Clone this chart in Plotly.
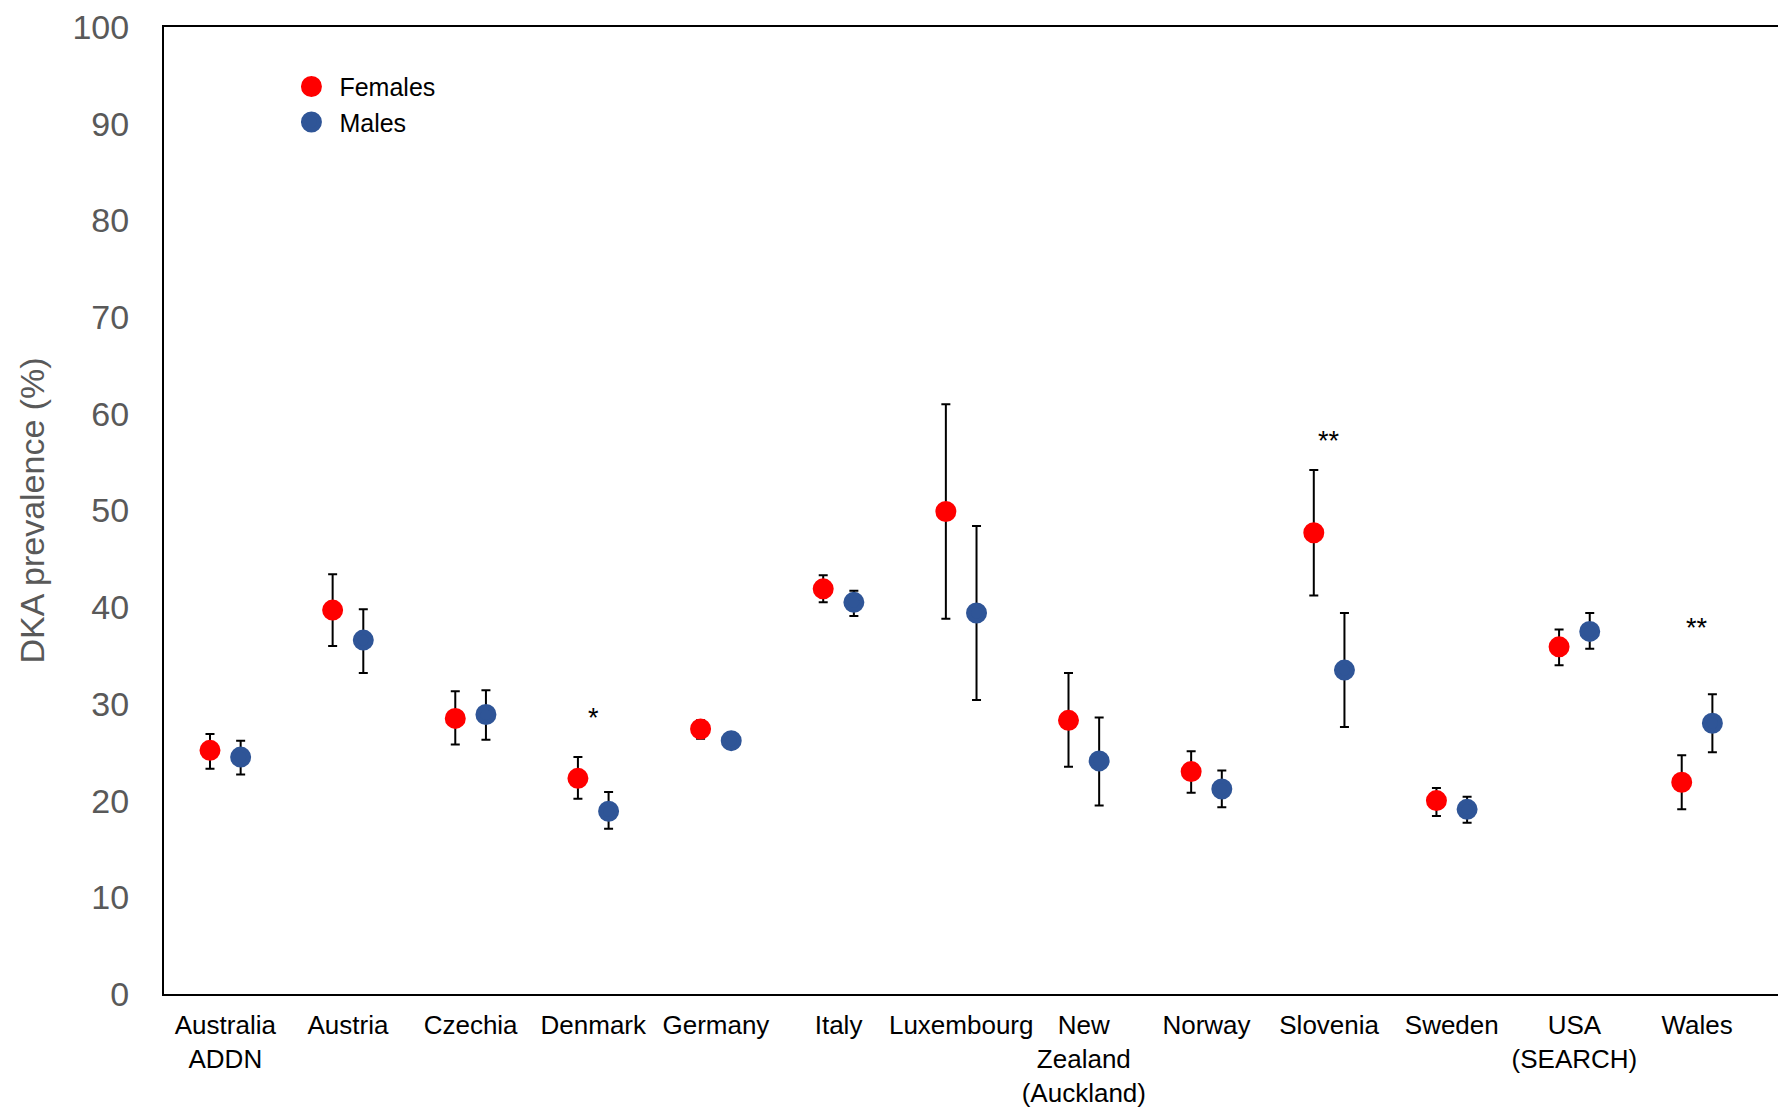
import plotly.graph_objects as go

# Countries / registries (x categories)
countries = [
    "Australia<br>ADDN", "Austria", "Czechia", "Denmark", "Germany", "Italy",
    "Luxembourg", "New<br>Zealand<br>(Auckland)", "Norway", "Slovenia",
    "Sweden", "USA<br>(SEARCH)", "Wales",
]

# DKA prevalence (%) with 95% confidence limits
female_pct = [25.2, 39.7, 28.5, 22.3, 27.4, 41.9, 49.9, 28.3, 23.0, 47.7, 20.0, 35.9, 21.9]
female_lo = [23.3, 36.0, 25.8, 20.2, 26.4, 40.5, 38.8, 23.5, 20.8, 41.2, 18.4, 34.0, 19.1]
female_hi = [26.9, 43.4, 31.3, 24.5, 28.3, 43.3, 61.0, 33.2, 25.1, 54.2, 21.3, 37.7, 24.7]

male_pct = [24.5, 36.6, 28.9, 18.9, 26.2, 40.5, 39.4, 24.1, 21.2, 33.5, 19.1, 37.5, 28.0]
male_lo = [22.7, 33.2, 26.3, 17.1, 25.4, 39.1, 30.4, 19.5, 19.3, 27.6, 17.7, 35.7, 25.0]
male_hi = [26.2, 39.8, 31.4, 20.9, 26.9, 41.7, 48.4, 28.6, 23.1, 39.4, 20.4, 39.4, 31.0]

# Significance markers for sex differences
sig_country = [3, 9, 12]
sig_text = ["*", "**", "**"]
sig_y = [29.0, 57.6, 38.3]

y_ticks = list(range(0, 101, 10))

pos = list(range(len(countries)))
dx = 0.125
FONT = "Liberation Sans, Arial, sans-serif"
RED = "#FF0000"
BLUE = "#2F5597"


def err(vals, lo, hi):
    return dict(
        type="data", symmetric=False,
        array=[h - v for v, h in zip(vals, hi)],
        arrayminus=[v - l for v, l in zip(vals, lo)],
        color="black", thickness=2, width=4.5,
    )


def dot(color):
    # 16px disc + 5px same-colour outline -> ~21px dot, also in the legend
    return dict(color=color, size=16, line=dict(color=color, width=5))


fig = go.Figure()
fig.add_trace(go.Scatter(
    x=[p - dx for p in pos], y=female_pct, mode="markers", name="Females",
    marker=dot(RED), error_y=err(female_pct, female_lo, female_hi),
))
fig.add_trace(go.Scatter(
    x=[p + dx for p in pos], y=male_pct, mode="markers", name="Males",
    marker=dot(BLUE), error_y=err(male_pct, male_lo, male_hi),
))

for i, t, yv in zip(sig_country, sig_text, sig_y):
    fig.add_annotation(
        x=i, y=yv, text=t, showarrow=False, xanchor="center", yanchor="middle",
        yshift=-4, font=dict(family=FONT, size=27, color="black"),
    )

# Rotated y-axis title
fig.add_annotation(
    x=-0.0818, y=0.5, xref="paper", yref="paper", text="DKA prevalence (%)",
    textangle=-90, showarrow=False, xanchor="center", yanchor="middle",
    font=dict(family=FONT, size=34, color="#595959"),
)

fig.update_layout(
    width=1778, height=1107,
    margin=dict(l=164, r=0, t=27, b=113),
    paper_bgcolor="white", plot_bgcolor="white",
    font=dict(family=FONT, color="black"),
    showlegend=True,
    legend=dict(
        x=0.074, y=0.962, xanchor="left", yanchor="top",
        tracegroupgap=0, itemwidth=46,
        bgcolor="rgba(0,0,0,0)", font=dict(family=FONT, size=25, color="black"),
    ),
    xaxis=dict(
        range=[-0.5, 12.66], tickvals=pos, ticktext=countries,
        showgrid=False, zeroline=False, showline=True, linecolor="black",
        linewidth=2, mirror=True, ticks="", tickangle=0, automargin=False,
        ticklabelstandoff=7,
        tickfont=dict(family=FONT, size=26, color="black"),
    ),
    yaxis=dict(
        range=[0, 100], tickvals=y_ticks, showgrid=False, zeroline=False,
        showline=True, linecolor="black", linewidth=2, ticks="",
        ticklabelstandoff=26, automargin=False,
        tickfont=dict(family=FONT, size=34, color="#595959"),
    ),
)

fig.write_html("out.html")
